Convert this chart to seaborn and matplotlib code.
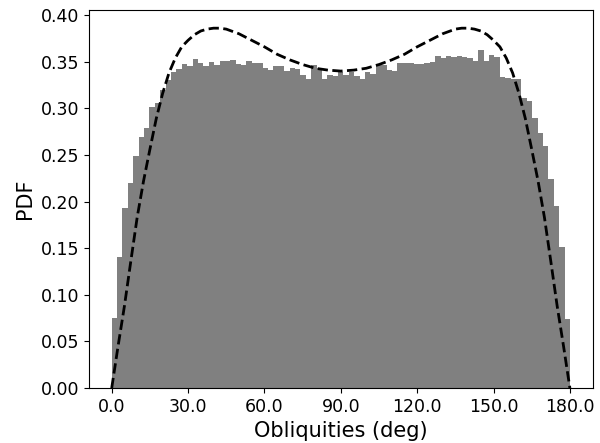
import numpy as np
import pandas as pd
import matplotlib
matplotlib.use('Agg')
import matplotlib.pyplot as plt
import seaborn as sns

sns.set_style('ticks', {'axes.edgecolor': 'black', 'xtick.color': 'black',
                        'ytick.color': 'black', 'text.color': 'black',
                        'axes.labelcolor': 'black'})
plt.rcParams['font.family'] = ['DejaVu Sans']

# histogram: 85 equal bins over 0..180 deg, heights
bin_lo, bin_hi, n_bins = 0.0, 180.0, 85
hist_heights = [
    0.075, 0.141, 0.193, 0.220, 0.249, 0.269, 0.279, 0.301, 0.306, 0.320,
    0.330, 0.339, 0.342, 0.348, 0.345, 0.353, 0.349, 0.345, 0.350, 0.347,
    0.351, 0.351, 0.352, 0.348, 0.346, 0.351, 0.349, 0.349, 0.343, 0.341,
    0.345, 0.345, 0.340, 0.343, 0.342, 0.336, 0.332, 0.346, 0.343, 0.331,
    0.336, 0.335, 0.339, 0.336, 0.339, 0.335, 0.332, 0.339, 0.337, 0.346,
    0.347, 0.341, 0.340, 0.349, 0.349, 0.349, 0.348, 0.348, 0.349, 0.350,
    0.356, 0.354, 0.356, 0.355, 0.356, 0.355, 0.354, 0.351, 0.363, 0.351,
    0.357, 0.355, 0.334, 0.333, 0.332, 0.332, 0.311, 0.308, 0.290, 0.274,
    0.260, 0.224, 0.195, 0.151, 0.074,
]

# analytic PDF curve (dashed)
curve_deg = [0, 2.5, 5, 7.5, 10, 12.5, 15, 17.5, 20, 22.5, 25, 27.5, 30, 32.5,
             35, 37.5, 40, 42.5, 45, 50, 55, 60, 65, 70, 75, 80, 85, 90,
             95, 100, 105, 110, 115, 120, 125, 130, 135, 137.5, 140, 142.5,
             145, 147.5, 150, 152.5, 155, 157.5, 160, 162.5, 165, 167.5, 170,
             172.5, 175, 177.5, 180]
curve_pdf = [0.0, 0.045, 0.088, 0.136, 0.183, 0.222, 0.256, 0.289, 0.316,
             0.338, 0.354, 0.366, 0.373, 0.379, 0.383, 0.385, 0.386, 0.386,
             0.385, 0.380, 0.373, 0.366, 0.358, 0.352, 0.347, 0.343, 0.341,
             0.340, 0.341, 0.343, 0.347, 0.352, 0.358, 0.366, 0.373, 0.380,
             0.385, 0.386, 0.386, 0.385, 0.383, 0.379, 0.373, 0.366, 0.354,
             0.338, 0.316, 0.289, 0.256, 0.222, 0.183, 0.136, 0.088, 0.045,
             0.0]

x_ticks = [0, 30, 60, 90, 120, 150, 180]
y_ticks = [0.00, 0.05, 0.10, 0.15, 0.20, 0.25, 0.30, 0.35, 0.40]

edges = np.linspace(bin_lo, bin_hi, n_bins + 1)
hist_df = pd.DataFrame({'obl': (edges[:-1] + edges[1:]) / 2, 'w': hist_heights})

fig, ax = plt.subplots(figsize=(6.0, 4.43), dpi=100)
sns.histplot(data=hist_df, x='obl', weights='w', bins=n_bins,
             binrange=(bin_lo, bin_hi), stat='count',
             color='gray', alpha=1.0, edgecolor='none', linewidth=0, ax=ax)
sns.lineplot(x=curve_deg, y=curve_pdf, ax=ax, color='black', linewidth=2,
             linestyle='--', sort=False, estimator=None)

ax.set_xticks(x_ticks)
ax.set_xticklabels([f'{t:.1f}' for t in x_ticks])
ax.set_yticks(y_ticks)
ax.set_yticklabels([f'{t:.2f}' for t in y_ticks])
ax.tick_params(labelsize=12.5)
ax.set_xlabel('Obliquities (deg)', fontsize=15)
ax.set_ylabel('PDF', fontsize=15)

fig.subplots_adjust(left=0.148, right=0.988, top=0.977, bottom=0.124)
plt.savefig('out.png', dpi=100)
plt.close()
